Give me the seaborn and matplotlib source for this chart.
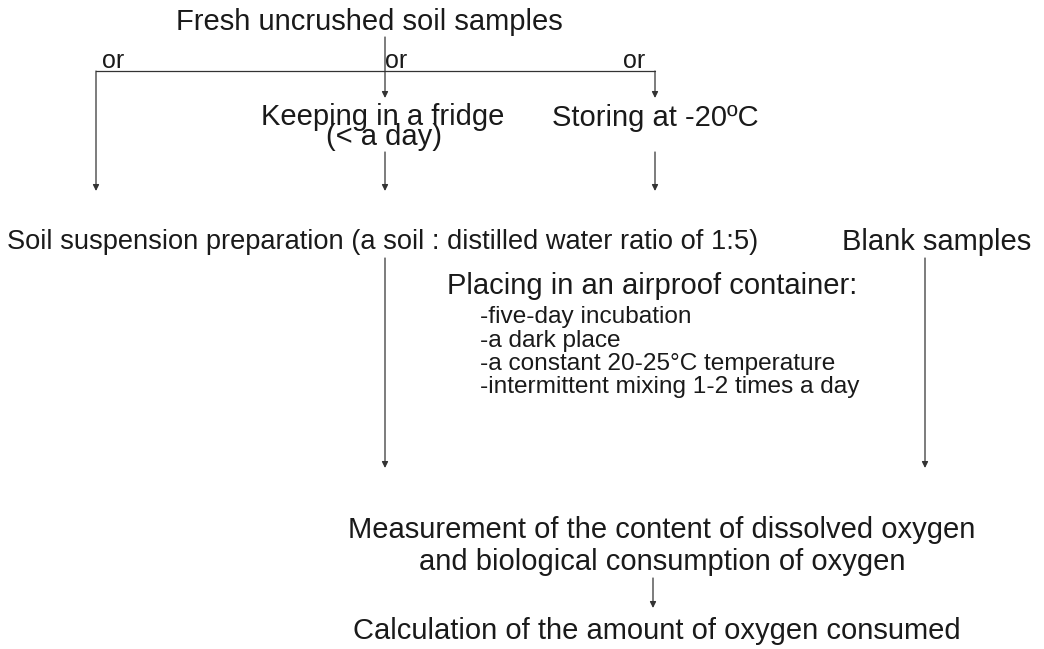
import matplotlib
matplotlib.use("Agg")
import matplotlib.pyplot as plt
import seaborn as sns

# ---- content ----
source_label = "Fresh uncrushed soil samples"
or_labels = ["or", "or", "or"]
storage_labels = ["Keeping in a fridge", "(< a day)", "Storing at -20ºC"]
prep_label = "Soil suspension preparation (a soil : distilled water ratio of 1:5)"
blank_label = "Blank samples"
incub_title = "Placing in an airproof container:"
incub_items = ["-five-day incubation", "-a dark place",
               "-a constant 20-25°C temperature",
               "-intermittent mixing 1-2 times a day"]
measure_label = "Measurement of the content of dissolved oxygen\nand biological consumption of oxygen"
calc_label = "Calculation of the amount of oxygen consumed"

sns.set_theme(style="white")
plt.rcParams["font.family"] = ["Liberation Sans", "DejaVu Sans"]

W, H = 1044, 649
fig = plt.figure(figsize=(W / 100, H / 100), dpi=100)
ax = fig.add_axes([0, 0, 1, 1])
ax.set_xlim(0, W)
ax.set_ylim(H, 0)
ax.axis("off")

col = "#1a1a1a"
lcol = "#333333"
lw = 0.9

def line(xs, ys):
    sns.lineplot(x=xs, y=ys, ax=ax, color=lcol, lw=lw, sort=False, estimator=None)

def arrow(x, y0, y1):
    ax.annotate("", xy=(x, y1), xytext=(x, y0),
                arrowprops=dict(arrowstyle="-|>", color=lcol, lw=lw,
                                mutation_scale=9, shrinkA=0, shrinkB=0))

big = 21
prep = 19.6
small = 17.6
orsz = 18

def txt(x, y, s, size=big, ha="center", **kw):
    ax.text(x, y, s, ha=ha, va="center", fontsize=size, color=col, **kw)

# top
txt(369, 22, source_label)
line([96, 655], [71, 71])
arrow(385, 37, 98)
arrow(655, 71, 98)
for x, t in zip([102, 385, 623], or_labels):
    txt(x, 61, t, size=orsz, ha="left")

txt(383, 117, storage_labels[0])
txt(384, 137, storage_labels[1])
txt(655, 118, storage_labels[2])

arrow(96, 71, 191)
arrow(385, 152, 191)
arrow(655, 152, 191)

txt(7, 242, prep_label, size=prep, ha="left")
txt(937, 242, blank_label)

arrow(385, 258, 468)
arrow(925, 258, 468)

txt(447, 286, incub_title, ha="left")
for i, t in enumerate(incub_items):
    txt(480, 317 + 23.5 * i, t, size=small, ha="left")

txt(662, 546, measure_label, linespacing=1.2)
arrow(653, 578, 608)
txt(657, 631, calc_label)

fig.savefig("out.png", dpi=100, facecolor="white")
